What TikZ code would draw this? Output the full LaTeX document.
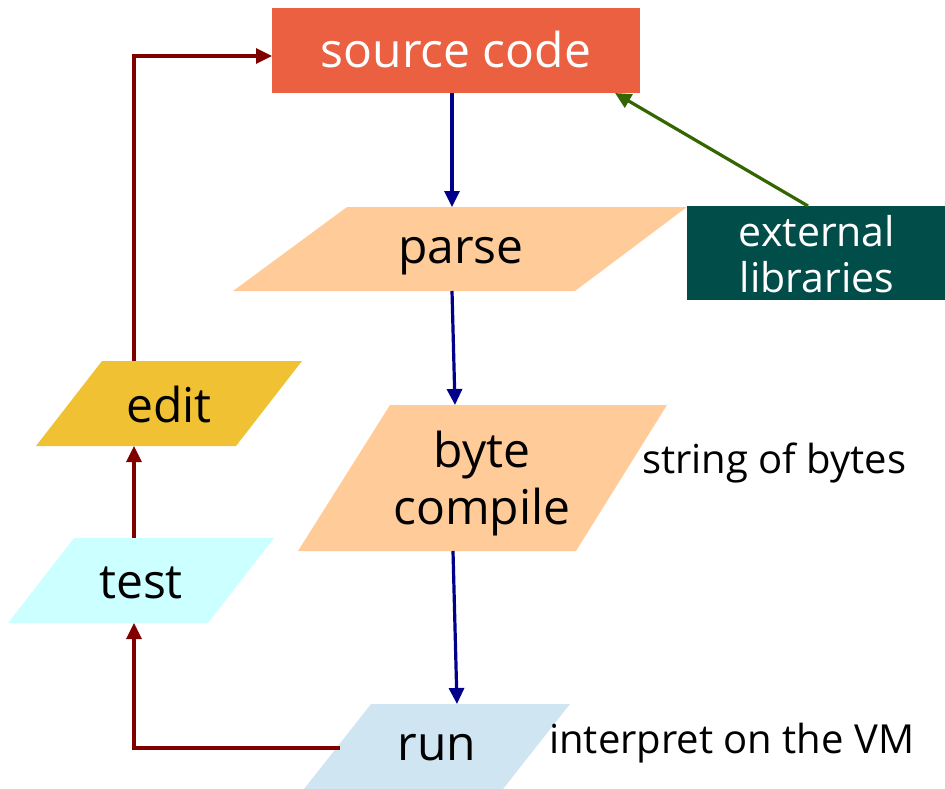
\documentclass[tikz,border=0pt]{standalone}
\usepackage{fontspec}
\setmainfont{Open Sans}
\usetikzlibrary{arrows.meta}
\definecolor{srcred}{RGB}{234,96,65}
\definecolor{peach}{RGB}{255,204,153}
\definecolor{libteal}{RGB}{0,77,74}
\definecolor{editgold}{RGB}{240,193,50}
\definecolor{testcyan}{RGB}{204,255,255}
\definecolor{runblue}{RGB}{207,229,242}
\definecolor{flownavy}{RGB}{0,0,139}
\definecolor{loopred}{RGB}{128,0,0}
\definecolor{libgreen}{RGB}{51,102,0}
\tikzset{
  lbl/.style={font=\fontsize{48}{57}\selectfont, text=black, align=center, inner sep=0pt},
  note/.style={font=\fontsize{40}{48}\selectfont, text=black, anchor=west, inner sep=0pt},
  flow/.style={line width=3.2pt, -{Triangle[length=16pt,width=15pt]}},
}
\begin{document}
\begin{tikzpicture}[x=1pt,y=-1pt]
\useasboundingbox (0,0) rectangle (945,789);

% boxes and parallelograms
\fill[srcred] (272,8) rectangle (640,93);
\fill[peach] (347,207) -- (687,207) -- (575,291) -- (233,291) -- cycle;
\fill[libteal] (687,206) rectangle (945,300);
\fill[peach] (390,405) -- (667,405) -- (576,551) -- (298,551) -- cycle;
\fill[runblue] (371,704) -- (570,704) -- (503,789) -- (304,789) -- cycle;
\fill[editgold] (102,361) -- (302,361) -- (236,446) -- (36,446) -- cycle;
\fill[testcyan] (74,538) -- (274,538) -- (208,623) -- (8,623) -- cycle;

% labels
\node[lbl, text=white] (src) at (456,50) {source code};
\node[lbl] (parse) at (461,256) {parse};
\node[lbl, text=white, font=\fontsize{41}{46}\selectfont] (lib) at (817,254) {external\\libraries};
\node[lbl] (byte) at (482,484) {byte\\compile};
\node[lbl] (run) at (437,748) {run};
\node[lbl] (edit) at (169,404) {edit};
\node[lbl] (test) at (141,583) {test};
\node[note] (bytesnote) at (642,463) {string of bytes};
\node[note] (vmnote) at (549,743) {interpret on the VM};

% connector end points on the shape borders
\coordinate (srcB) at (452,93);
\coordinate (srcL) at (272,56);
\coordinate (srcBR) at (615,93);
\coordinate (parseT) at (452,207);
\coordinate (parseB) at (452,291);
\coordinate (libT) at (808,206);
\coordinate (byteT) at (455,405);
\coordinate (byteB) at (453,551);
\coordinate (runT) at (457,704);
\coordinate (runL) at (340,748);
\coordinate (testB) at (134,623);
\coordinate (testT) at (134,538);
\coordinate (editB) at (134,446);
\coordinate (editT) at (134,361);

% main pipeline
\draw[flow, flownavy] (srcB) -- (parseT);
\draw[flow, flownavy] (parseB) -- (byteT);
\draw[flow, flownavy] (byteB) -- (runT);
\draw[flow, libgreen] (libT) -- (srcBR);

% development loop
\draw[flow, loopred] (runL) -| (testB);
\draw[flow, loopred] (testT) -- (editB);
\draw[flow, loopred] (editT) |- (srcL);
\end{tikzpicture}
\end{document}
